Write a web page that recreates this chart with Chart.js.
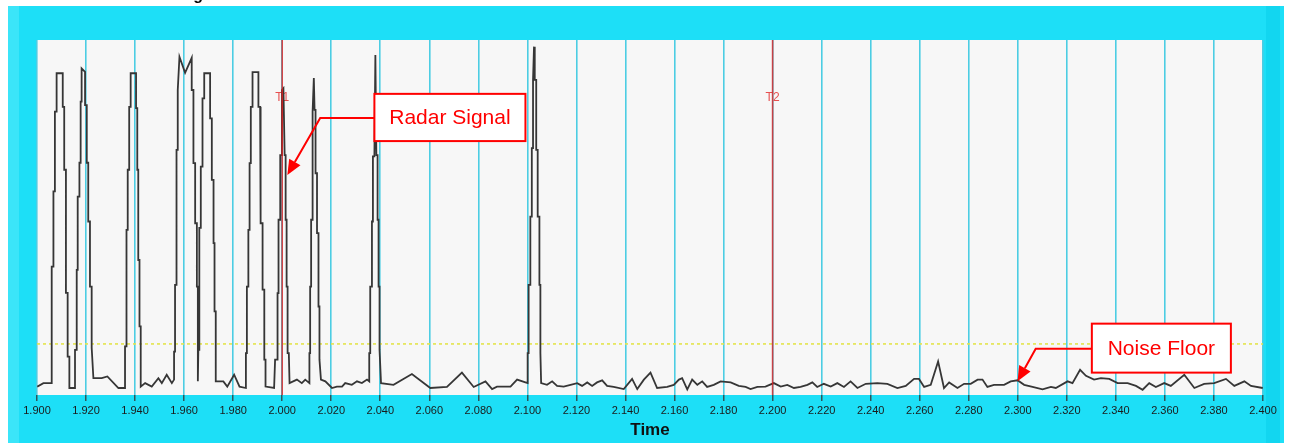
<!DOCTYPE html>
<html lang="en">
<head>
<meta charset="UTF-8">
<title>Radar Signal vs Time</title>
<script src="https://cdn.jsdelivr.net/npm/chart.js"></script>
<style>
  body { margin: 0; background: #ffffff; overflow: hidden; }
  #chart { display: block; }
</style>
</head>
<body>
<canvas id="chart" width="1290" height="443"></canvas>
<script>
// x axis ticks (seconds)
const tickLabels = ['1.900','1.920','1.940','1.960','1.980','2.000','2.020','2.040','2.060','2.080',
  '2.100','2.120','2.140','2.160','2.180','2.200','2.220','2.240','2.260','2.280',
  '2.300','2.320','2.340','2.360','2.380','2.400'];

// received level trace (arbitrary units, 0..100)
const sigTime = [
  1.9001,1.9026,1.9060,1.9060,1.9067,1.9067,1.9073,1.9073,1.9080,1.9080,1.9105,1.9105,1.9111,1.9111,1.9118,1.9118,1.9125,1.9125,1.9132,1.9132,1.9155,
  1.9155,1.9162,1.9162,1.9166,1.9166,1.9173,1.9173,1.9178,1.9178,1.9182,1.9182,1.9196,1.9196,1.9203,1.9203,1.9209,1.9209,1.9216,1.9216,1.9223,1.9223,1.9230,
  1.9264,1.9287,1.9332,1.9359,
  1.9359,1.9363,1.9363,1.9366,1.9366,1.9370,1.9370,1.9376,1.9376,1.9382,1.9382,1.9404,1.9404,1.9409,1.9409,1.9413,1.9413,1.9418,1.9418,1.9423,1.9423,
  1.9441,1.9468,1.9495,1.9509,1.9529,1.9550,1.9559,
  1.9559,1.9563,1.9563,1.9567,1.9567,1.9570,1.9570,1.9574,1.9574,1.9581,1.9604,1.9631,1.9631,1.9638,1.9638,1.9645,1.9645,1.9652,1.9652,1.9656,1.9656,
  1.9658,1.9662,1.9662,1.9668,1.9668,1.9675,1.9675,1.9682,1.9682,1.9706,1.9706,1.9713,1.9713,1.9720,1.9720,1.9724,1.9724,1.9729,1.9729,
  1.9760,1.9776,1.9804,1.9826,1.9852,
  1.9852,1.9856,1.9856,1.9862,1.9862,1.9867,1.9867,1.9872,1.9872,1.9879,1.9879,1.9903,1.9903,1.9910,1.9910,1.9913,1.9913,1.9920,1.9920,1.9927,1.9927,1.9932,1.9932,1.9967,
  1.9971,1.9981,1.9981,1.9985,1.9985,1.9992,1.9992,1.9999,1.9999,2.0005,2.0010,2.0014,2.0014,2.0018,2.0018,2.0022,2.0022,2.0027,2.0030,
  2.0060,2.0080,2.0094,2.0111,
  2.0111,2.0114,2.0114,2.0118,2.0118,2.0122,2.0122,2.0125,2.0125,2.0129,2.0132,2.0136,2.0136,2.0142,2.0142,2.0148,2.0148,2.0152,2.0152,2.0158,
  2.0176,2.0203,2.0223,2.0244,2.0257,2.0284,2.0305,2.0325,2.0346,2.0355,
  2.0355,2.0359,2.0359,2.0366,2.0366,2.0370,2.0370,2.0376,2.0380,2.0384,2.0389,2.0389,2.0393,2.0393,2.0397,2.0397,2.0403,
  2.0454,2.0529,2.0604,2.0672,2.0733,2.0781,2.0829,2.0856,2.0876,2.0931,2.0958,2.0992,2.1001,
  2.1001,2.1005,2.1005,2.1012,2.1012,2.1018,2.1018,2.1023,2.1023,2.1027,2.1030,2.1036,2.1036,2.1042,2.1042,2.1049,2.1049,2.1053,2.1053,2.1056,
  2.1080,2.1101,2.1121,2.1148,2.1176,2.1203,2.1223,2.1244,2.1264,2.1284,2.1305,2.1325,2.1352,2.1393,2.1427,2.1448,2.1475,2.1502,2.1529,2.1570,
  2.1597,2.1618,2.1631,2.1652,2.1672,2.1693,2.1713,2.1733,2.1760,2.1788,2.1829,2.1862,2.1890,2.1910,2.1938,2.1971,2.2005,2.2033,2.2060,2.2087,
  2.2114,2.2142,2.2162,2.2182,2.2209,2.2237,2.2264,2.2291,2.2318,2.2346,
  2.2380,2.2427,2.2468,2.2509,2.2543,2.2577,2.2597,2.2618,2.2645,2.2675,2.2699,2.2720,2.2754,2.2781,2.2808,2.2836,2.2856,2.2876,2.2903,2.2944,
  2.2971,2.2999,2.3026,2.3060,2.3101,2.3135,2.3155,2.3203,2.3223,2.3254,2.3278,2.3311,2.3339,2.3373,2.3407,2.3448,2.3482,2.3509,2.3536,2.3563,
  2.3597,2.3624,2.3679,2.3720,2.3760,2.3801,2.3849,2.3883,2.3924,2.3951,2.3999
];
const sigLevel = [
  0.9,1.9,1.9,35.2,35.2,56.7,56.7,79.5,79.5,90.5,90.5,80.9,80.9,62.9,62.9,27.7,27.7,9.5,9.5,0.5,0.5,
  11.4,11.4,34.3,34.3,55.2,55.2,64.9,64.9,82.4,82.4,91.9,90.9,81.4,81.4,64.9,64.9,48.1,48.1,29.5,29.5,12,3.3,
  3.3,3.8,0.5,0.5,
  12.4,12.4,26.7,26.7,45.7,45.7,62.9,62.9,80.9,80.9,90.5,90.5,80.5,80.5,62.9,62.9,37.1,37.1,18.1,18.1,0.9,
  1.9,0.9,3.3,1.9,4.3,1.9,2.9,
  10.9,10.9,30,30,49.5,49.5,68.6,68.6,85.7,95.2,90.6,94.9,85.7,85.7,64.8,64.8,47.6,47.6,29.5,29.5,2.4,
  11.4,11.4,46.3,46.3,63.8,63.8,83.3,83.3,90.5,90.5,77.6,77.6,60,60,41.9,41.9,22.4,22.4,2.4,
  2.4,0.9,4.3,0.9,0.5,
  10.5,10.5,29.5,29.5,45.7,45.7,64.8,64.8,80.9,80.9,90.8,90.8,80.9,80.9,63.8,63.8,47.6,47.6,28.6,28.6,8.6,8.6,0.9,0.5,
  8.6,8.6,27.6,27.6,48.6,48.6,67.1,67.1,85.7,86.2,67.1,67.1,48.6,48.6,29.5,29.5,10.5,10.5,1.9,
  2.9,1.9,2.9,1.9,
  10.5,10.5,29.5,29.5,48.6,48.6,62.4,62.4,79.5,89.1,80,80,61.9,61.9,44.8,44.8,23.8,23.8,8.6,2.9,
  2.4,0.5,0.9,0.9,1.9,1.4,2.4,1.9,2.9,2.4,
  10.5,10.5,29.5,29.5,48.1,48.1,66.7,66.7,95.7,67.1,67.1,48.6,48.6,29.5,29.5,11.4,1.9,
  1.4,4.5,0.5,0.8,4.9,0.8,2.4,0.2,0.9,0.9,2.9,2.1,1.9,
  10.5,10.5,30,30,49.5,49.5,69.1,69.1,88.6,98.1,88.6,88.6,68.6,68.6,49.5,49.5,30,30,10.5,1.9,
  1.4,2.4,1.1,0.9,1.4,1.9,1.1,2.1,1.1,2.1,2.7,1.1,0.8,0.2,3.1,0.2,2.9,4.9,0.5,0.8,
  1.4,2.9,3.3,0.1,2.9,1.4,2.4,0.8,1.4,2.4,2.1,1.1,0.8,0.2,0.8,0.9,1.9,0.9,1.4,0.5,
  0.8,1.4,2.1,0.8,1.7,0.9,1.9,0.8,2.4,0.5,
  1.7,1.9,1.7,0.5,1.1,3.1,3.1,0.8,1.4,8.1,0.5,2.1,0.5,1.7,1.7,2.9,2.9,0.8,1.4,1.4,
  2.4,2.7,1.4,0.8,0.1,0.8,0.5,2.4,1.9,5.7,4,2.9,3.3,3.1,1.9,1.9,1.1,0,1.9,0.8,
  1.9,1.1,4.3,0.5,1.7,1.9,3.1,1.1,2.4,1.1,0.5
];

// cursors and threshold
const cursorTimes = [2.000, 2.200];
const cursorNames = ['T1', 'T2'];
const cursorLabelLevel = 83.4;
const noiseFloorLevel = 13.1;
const yMin = -1.5, yMax = 100;

// callouts (data coordinates)
const callouts = [
  { text: 'Radar Signal', box: [2.0376, 84.6, 2.0992, 71.1],
    arrow: [[2.0376, 77.7], [2.0155, 77.7], [2.0021, 61.4]] },
  { text: 'Noise Floor', box: [2.3302, 18.9, 2.3869, 4.9],
    arrow: [[2.3302, 11.7], [2.3073, 11.7], [2.2999, 2.4]] }
];

if (sigTime.length !== sigLevel.length) console.error('length mismatch', sigTime.length, sigLevel.length);
const n = Math.min(sigTime.length, sigLevel.length);
const traceData = [];
for (let i = 0; i < n; i++) traceData.push({ x: sigTime[i], y: sigLevel[i] });

// frame + plot background
const framePlugin = {
  id: 'frame',
  beforeDraw(chart) {
    const { ctx, width, height, chartArea: a } = chart;
    ctx.save();
    ctx.fillStyle = '#ffffff';
    ctx.fillRect(0, 0, width, height);
    ctx.fillStyle = '#1ddff7';
    ctx.fillRect(8, 6, 1276, height - 6);
    ctx.fillStyle = '#3be5f9';
    ctx.fillRect(8, 6, 11, height - 6);
    ctx.fillStyle = '#12d6f0';
    ctx.fillRect(1266, 6, 14, height - 6);
    ctx.fillStyle = '#f7f7f7';
    ctx.fillRect(a.left, a.top, a.right - a.left, a.bottom - a.top);
    // cut-off window title
    ctx.fillStyle = '#000';
    ctx.font = 'bold 16px Arial';
    ctx.textAlign = 'right';
    ctx.textBaseline = 'alphabetic';
    ctx.fillText('Radar Timing', 203, 0);
    ctx.restore();
  },
  beforeDatasetsDraw(chart) {
    const { ctx, scales: { x, y } } = chart;
    ctx.save();
    ctx.fillStyle = 'rgba(228,50,50,0.85)';
    ctx.font = '12px Arial';
    ctx.textAlign = 'center';
    ctx.textBaseline = 'middle';
    cursorTimes.forEach((t, i) => {
      ctx.fillText(cursorNames[i], x.getPixelForValue(t), y.getPixelForValue(cursorLabelLevel));
    });
    ctx.restore();
  },
  afterDatasetsDraw(chart) {
    const { ctx, scales: { x, y } } = chart;
    ctx.save();
    callouts.forEach(c => {
      const x0 = x.getPixelForValue(c.box[0]), y0 = y.getPixelForValue(c.box[1]);
      const x1 = x.getPixelForValue(c.box[2]), y1 = y.getPixelForValue(c.box[3]);
      ctx.fillStyle = '#ffffff';
      ctx.fillRect(x0, y0, x1 - x0, y1 - y0);
      ctx.strokeStyle = '#ff0000';
      ctx.lineWidth = 2;
      ctx.strokeRect(x0, y0, x1 - x0, y1 - y0);
      ctx.fillStyle = '#ff0000';
      ctx.font = '21px Arial';
      ctx.textAlign = 'center';
      ctx.textBaseline = 'middle';
      ctx.fillText(c.text, (x0 + x1) / 2, (y0 + y1) / 2 + 1);

      const pts = c.arrow.map(p => [x.getPixelForValue(p[0]), y.getPixelForValue(p[1])]);
      const tip = pts[pts.length - 1], prev = pts[pts.length - 2];
      const ang = Math.atan2(tip[1] - prev[1], tip[0] - prev[0]);
      const headLen = 15, headW = 6.5;
      const bx = tip[0] - headLen * Math.cos(ang), by = tip[1] - headLen * Math.sin(ang);
      ctx.beginPath();
      ctx.moveTo(pts[0][0], pts[0][1]);
      for (let i = 1; i < pts.length - 1; i++) ctx.lineTo(pts[i][0], pts[i][1]);
      ctx.lineTo(bx, by);
      ctx.stroke();
      ctx.beginPath();
      ctx.moveTo(tip[0], tip[1]);
      ctx.lineTo(bx + headW * Math.sin(ang), by - headW * Math.cos(ang));
      ctx.lineTo(bx - headW * Math.sin(ang), by + headW * Math.cos(ang));
      ctx.closePath();
      ctx.fill();
    });
    ctx.restore();
  }
};

const cursorSets = cursorTimes.map(t => ({
  data: [{ x: t, y: yMin }, { x: t, y: yMax }],
  borderColor: 'rgba(228,30,30,0.8)',
  borderWidth: 1.6,
  order: 0
}));

new Chart(document.getElementById('chart'), {
  type: 'line',
  data: {
    datasets: [
      ...cursorSets,
      { data: traceData, borderColor: '#363636', borderWidth: 1.8, order: 1 },
      { data: [{ x: 1.9, y: noiseFloorLevel }, { x: 2.4, y: noiseFloorLevel }],
        borderColor: '#e4e44c', borderWidth: 1.6, borderDash: [3, 3], order: 2 }
    ]
  },
  options: {
    responsive: false,
    animation: false,
    layout: { padding: { left: 37, right: 27, top: 40, bottom: 0 } },
    elements: { point: { radius: 0 }, line: { tension: 0, borderJoinStyle: 'miter' } },
    plugins: { legend: { display: false }, tooltip: { enabled: false } },
    scales: {
      x: {
        type: 'linear',
        min: 1.9,
        max: 2.4,
        afterBuildTicks: s => { s.ticks = tickLabels.map(l => ({ value: parseFloat(l) })); },
        afterFit: s => { s.height = 48; },
        ticks: {
          autoSkip: false, maxRotation: 0, padding: 3,
          color: '#1a1a1a', font: { family: 'Arial', size: 11 },
          callback: (v, i) => tickLabels[i]
        },
        grid: { color: '#4ccde3', lineWidth: 1.6, tickColor: '#333', tickLength: 6, tickWidth: 1.2 },
        border: { display: false },
        title: {
          display: true, text: 'Time', color: '#111',
          font: { family: 'Arial', size: 17, weight: 'bold' },
          padding: { top: 0, bottom: 2 }
        }
      },
      y: { display: false, min: yMin, max: yMax }
    }
  },
  plugins: [framePlugin]
});
</script>
</body>
</html>
